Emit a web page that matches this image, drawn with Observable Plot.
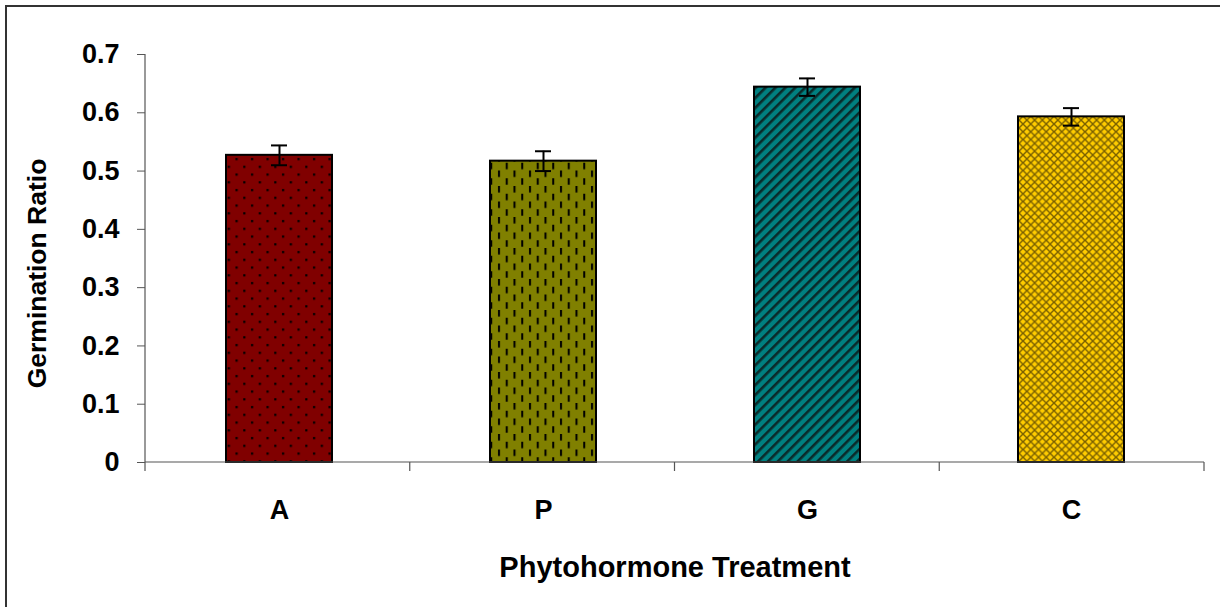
<!DOCTYPE html>
<html>
<head>
<meta charset="utf-8">
<script src="https://cdn.jsdelivr.net/npm/d3@7"></script>
<script src="https://cdn.jsdelivr.net/npm/@observablehq/plot@0.6"></script>
<style>
  html, body { margin: 0; padding: 0; background: #fff; }
  #wrap { position: relative; width: 1220px; height: 607px; overflow: hidden; }
  #border { position: absolute; left: 5px; top: 5px; width: 1230px; height: 620px; border-left: 2px solid #333; border-top: 2px solid #333; box-sizing: border-box; pointer-events: none; }
  svg { font-family: "Liberation Sans", Arial, sans-serif; }
</style>
</head>
<body>
<div id="wrap"><div id="border"></div></div>
<script>
const categories = ["A", "P", "G", "C"];
const values = [0.527, 0.517, 0.644, 0.593];
const errors = [0.017, 0.017, 0.015, 0.015];
const yTicks = [0, 0.1, 0.2, 0.3, 0.4, 0.5, 0.6, 0.7];
const patternIds = ["patA", "patP", "patG", "patC"];
const xTitle = "Phytohormone Treatment";
const yTitle = "Germination Ratio";

const data = categories.map((c, i) => ({cat: c, value: values[i], err: errors[i], fill: `url(#${patternIds[i]})`}));

function frameAxes(index, scales, values, dims) {
  const {width, height, marginLeft, marginRight, marginTop, marginBottom} = dims;
  const y0 = height - marginBottom;
  const step = (width - marginLeft - marginRight) / categories.length;
  const g = d3.create("svg:g").attr("stroke", "#555").attr("stroke-width", 1.2).attr("fill", "none");
  g.append("line").attr("x1", marginLeft).attr("x2", marginLeft).attr("y1", marginTop).attr("y2", y0);
  g.append("line").attr("x1", marginLeft).attr("x2", width - marginRight).attr("y1", y0).attr("y2", y0);
  for (let i = 0; i <= categories.length; i++) {
    const bx = marginLeft + i * step;
    g.append("line").attr("x1", bx).attr("x2", bx).attr("y1", y0).attr("y2", y0 + 9);
  }
  return g.node();
}

const chart = Plot.plot({
  width: 1220,
  height: 607,
  marginLeft: 145,
  marginRight: 16,
  marginTop: 54,
  marginBottom: 145,
  style: {fontFamily: "'Liberation Sans', Arial, sans-serif", fontWeight: "bold", fontSize: "27px", color: "#000"},
  x: {domain: categories, paddingInner: 0.6, paddingOuter: 0.3},
  y: {domain: [0, 0.7]},
  color: {type: "identity"},
  marks: [
    Plot.barY(data, {x: "cat", y: "value", fill: "fill", stroke: "#000", strokeWidth: 2}),
    Plot.ruleX(data, {x: "cat", y1: d => d.value - d.err, y2: d => d.value + d.err, stroke: "#000", strokeWidth: 2}),
    Plot.tickY(data, {x: "cat", y: d => d.value - d.err, stroke: "#000", strokeWidth: 2, insetLeft: 45, insetRight: 45}),
    Plot.tickY(data, {x: "cat", y: d => d.value + d.err, stroke: "#000", strokeWidth: 2, insetLeft: 45, insetRight: 45}),
    frameAxes,
    Plot.axisY({ticks: yTicks, tickFormat: d3.format("~g"), tickSize: 8, tickPadding: 18, stroke: "#555", fontSize: 27, fontWeight: "bold", label: null}),
    Plot.text([yTitle], {text: d => d, frameAnchor: "left", textAnchor: "middle", rotate: -90, dx: -108, dy: 15, fontSize: 26.5, fontWeight: "bold", fill: "#000"}),
    Plot.axisX({tickSize: 0, tickPadding: 37, fontSize: 27, fontWeight: "bold", label: null}),
    Plot.axisX({ticks: [], tickSize: 0, fontSize: 29, fontWeight: "bold",
      label: xTitle, labelAnchor: "center", labelOffset: 114, labelArrow: "none"})
  ]
});

// pattern definitions
const svg = d3.select(chart);
const defs = svg.insert("defs", ":first-child");
// A: dark red with black dots
let p = defs.append("pattern").attr("id", "patA").attr("patternUnits", "userSpaceOnUse").attr("width", 15.5).attr("height", 15.5);
p.append("rect").attr("width", 15.5).attr("height", 15.5).attr("fill", "#800000");
p.append("rect").attr("x", 3).attr("y", 3).attr("width", 2.2).attr("height", 2.2).attr("fill", "#000");
p.append("rect").attr("x", 10.75).attr("y", 10.75).attr("width", 2.2).attr("height", 2.2).attr("fill", "#000");
// P: olive with vertical dashes
p = defs.append("pattern").attr("id", "patP").attr("patternUnits", "userSpaceOnUse").attr("width", 15.5).attr("height", 15.5);
p.append("rect").attr("width", 15.5).attr("height", 15.5).attr("fill", "#808000");
p.append("rect").attr("x", 2).attr("y", 0).attr("width", 2).attr("height", 6.5).attr("fill", "#000");
p.append("rect").attr("x", 9.75).attr("y", 7.75).attr("width", 2).attr("height", 6.5).attr("fill", "#000");
// G: teal with downward diagonal stripes
p = defs.append("pattern").attr("id", "patG").attr("patternUnits", "userSpaceOnUse").attr("width", 7).attr("height", 7).attr("patternTransform", "rotate(45)");
p.append("rect").attr("width", 7).attr("height", 7).attr("fill", "#008080");
p.append("rect").attr("x", 0).attr("y", 0).attr("width", 2.6).attr("height", 7).attr("fill", "#0a2a2a");
// C: gold with small crosshatch
p = defs.append("pattern").attr("id", "patC").attr("patternUnits", "userSpaceOnUse").attr("width", 7.75).attr("height", 7.75);
p.append("rect").attr("width", 7.75).attr("height", 7.75).attr("fill", "#FFCC00");
p.append("path").attr("d", "M0,0 L7.75,7.75 M7.75,0 L0,7.75").attr("stroke", "#7a6000").attr("stroke-width", 1.4).attr("fill", "none");

document.getElementById("wrap").prepend(chart);
</script>
</body>
</html>
